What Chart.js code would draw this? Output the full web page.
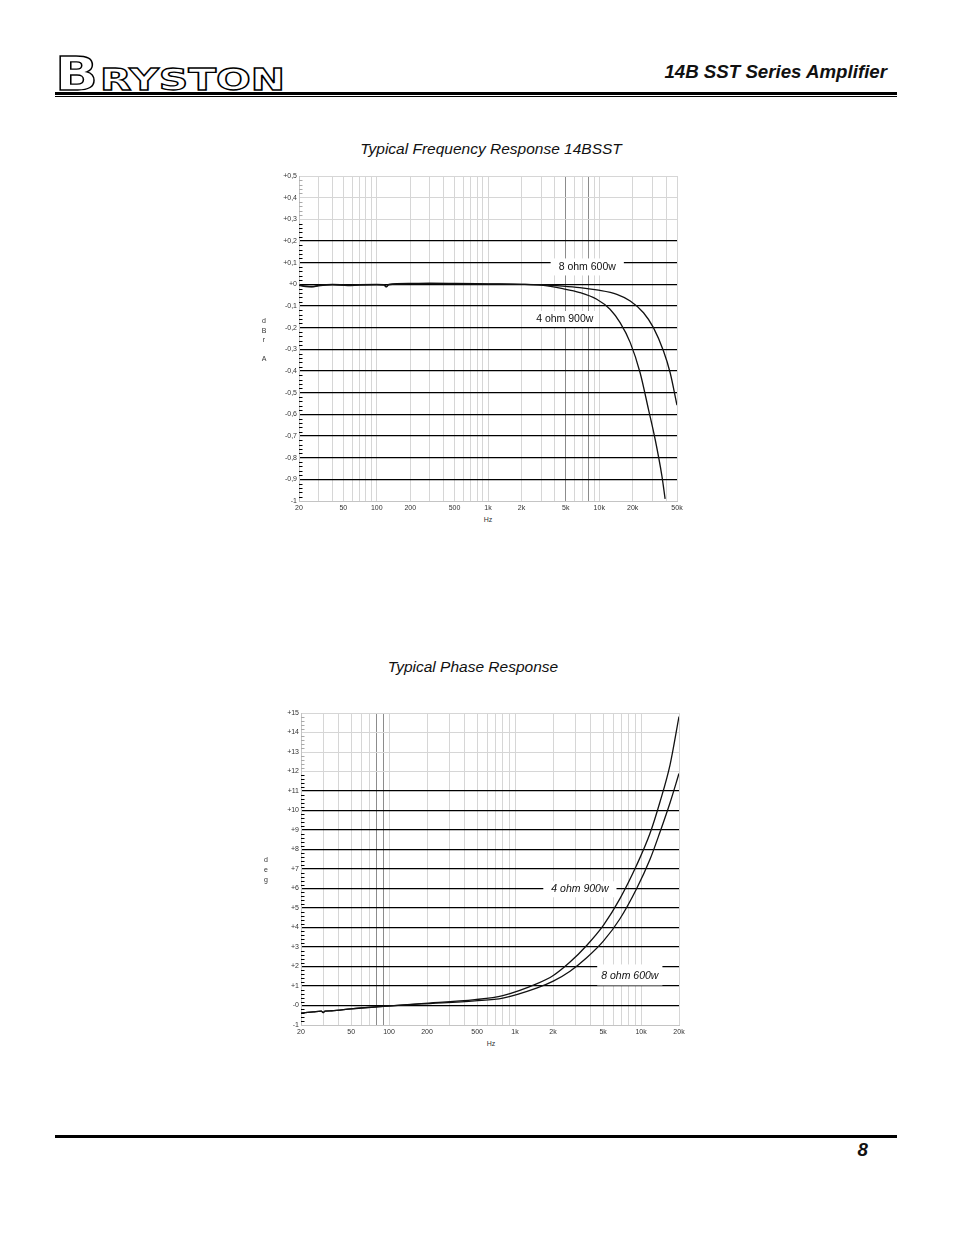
<!DOCTYPE html>
<html>
<head>
<meta charset="utf-8">
<script src="https://cdn.jsdelivr.net/npm/chart.js@4.4.1/dist/chart.umd.min.js"></script>
<style>
  body { margin: 0; background: #fff; width: 954px; height: 1235px; position: relative;
         font-family: "Liberation Sans", Arial, sans-serif; color: #111; }
  .abs { position: absolute; }
  .rule { position: absolute; left: 55px; width: 842px; background: #000; }
  .ctitle { position: absolute; width: 400px; text-align: center; font-style: italic;
            font-size: 15.5px; line-height: 18px; }
  .axlbl { position: absolute; font-size: 7px; color: #333; text-align: center; }
</style>
</head>
<body>

<svg class="abs" style="left:50px;top:50px" width="245" height="45">
  <text x="5" y="40" font-family="DejaVu Sans" font-weight="bold" font-size="47" textLength="43"
        lengthAdjust="spacingAndGlyphs" fill="#fff" stroke="#000" stroke-width="1.3">B</text>
  <text x="50" y="40" font-family="DejaVu Sans" font-weight="bold" font-size="31" textLength="185"
        lengthAdjust="spacingAndGlyphs" fill="#fff" stroke="#000" stroke-width="1.3">RYSTON</text>
</svg>
<div class="abs" style="right:67px;top:62px;font-size:18.7px;line-height:20px;font-weight:bold;font-style:italic">14B SST Series Amplifier</div>
<div class="rule" style="top:92px;height:3px"></div>
<div class="rule" style="top:96px;height:1px"></div>

<div class="ctitle" style="left:291px;top:140px">Typical Frequency Response 14BSST</div>
<div class="abs" style="left:250px;top:165px"><canvas id="freqChart" width="440" height="350"></canvas></div>
<div class="axlbl" style="left:259px;top:316px;width:10px;line-height:9.5px">d<br>B<br>r<br><br>A</div>
<div class="axlbl" style="left:473px;top:515px;width:30px;line-height:9px">Hz</div>

<div class="ctitle" style="left:273px;top:658px">Typical Phase Response</div>
<div class="abs" style="left:250px;top:700px"><canvas id="phaseChart" width="440" height="339"></canvas></div>
<div class="axlbl" style="left:261px;top:855px;width:10px;line-height:10px">d<br>e<br>g</div>
<div class="axlbl" style="left:476px;top:1039px;width:30px;line-height:9px">Hz</div>

<div class="rule" style="top:1135px;height:3px"></div>
<div class="abs" style="right:86px;top:1140px;font-size:18.7px;line-height:20px;font-weight:bold;font-style:italic">8</div>

<script>
// ---- frequency response (dBr A) ----
const freq8 = [20, 23, 26, 30, 40, 55, 70, 100, 116, 122, 128, 200, 300, 500, 1000, 2000, 3000,
               4700, 6700, 9500, 14400, 19000, 25000, 30700, 37800, 43400, 50000];
const dbr8 = [-0.005, -0.01, -0.012, -0.007, -0.002, -0.006, -0.003, -0.002, -0.003, -0.012, -0.002,
              0.002, 0.003, 0.002, 0.001, 0, -0.002, -0.008, -0.015, -0.026, -0.046, -0.077,
              -0.131, -0.2, -0.308, -0.408, -0.558];
const freq4 = [20, 23, 26, 30, 40, 55, 70, 100, 116, 122, 128, 200, 300, 500, 1000, 2000, 3000,
               4700, 6700, 9500, 12500, 15400, 19000, 23300, 27700, 31800, 36600, 39100];
const dbr4 = [-0.003, -0.008, -0.01, -0.005, 0, -0.004, -0.001, 0, -0.001, -0.01, 0, 0.004, 0.005,
              0.004, 0.002, 0, -0.004, -0.02, -0.038, -0.069, -0.115, -0.177, -0.269, -0.408,
              -0.577, -0.715, -0.885, -0.99];

// ---- phase response (deg) ----
const phaseHz = [20, 25, 29, 30, 31, 35, 50, 90, 180, 480, 800, 1480, 2010, 2730, 3700, 5020,
                 6800, 9230, 11780, 14140, 16980, 20000];
const phase4 = [-0.39, -0.33, -0.29, -0.36, -0.29, -0.27, -0.17, -0.04, 0.1, 0.3, 0.51, 1.11, 1.54,
                2.23, 3.08, 4.11, 5.48, 7.2, 8.83, 10.45, 12.34, 14.82];
const phase8 = [-0.39, -0.33, -0.29, -0.36, -0.29, -0.27, -0.17, -0.05, 0.08, 0.24, 0.38, 0.89, 1.25,
                1.76, 2.45, 3.3, 4.45, 6.0, 7.5, 8.9, 10.4, 11.9];

// ---- axes ----
const gridHz = [20, 30, 40, 50, 60, 70, 80, 90, 100, 200, 300, 400, 500, 600, 700, 800, 900,
                1000, 2000, 3000, 4000, 5000, 6000, 7000, 8000, 9000, 10000, 20000, 30000, 40000, 50000];
const labelHz = [20, 50, 100, 200, 500, 1000, 2000, 5000, 10000, 20000, 50000];
const labelHzText = ['20', '50', '100', '200', '500', '1k', '2k', '5k', '10k', '20k', '50k'];

const dbrTicks = [-1, -0.9, -0.8, -0.7, -0.6, -0.5, -0.4, -0.3, -0.2, -0.1, 0, 0.1, 0.2, 0.3, 0.4, 0.5];
const dbrTickText = ['-1', '-0,9', '-0,8', '-0,7', '-0,6', '-0,5', '-0,4', '-0,3', '-0,2', '-0,1',
                     '+0', '+0,1', '+0,2', '+0,3', '+0,4', '+0,5'];
const degTicks = [-1, 0, 1, 2, 3, 4, 5, 6, 7, 8, 9, 10, 11, 12, 13, 14, 15];
const degTickText = ['-1', '-0', '+1', '+2', '+3', '+4', '+5', '+6', '+7', '+8', '+9', '+10',
                     '+11', '+12', '+13', '+14', '+15'];

// ---- in-plot labels ----
const freqLabelText = ['8 ohm 600w', '4 ohm 900w'];
const freqLabelHz = [7800, 4900];
const freqLabelVal = [0.078, -0.16];
const phaseLabelText = ['4 ohm 900w', '8 ohm 600w'];
const phaseLabelHz = [3270, 8140];
const phaseLabelVal = [5.96, 1.49];

Chart.defaults.font.family = '"Liberation Sans", Arial, sans-serif';

// short dashes on the inside of the left axis
const minorTicks = {
  id: 'minorTicks',
  afterDraw(chart, args, opts) {
    const y = chart.scales.y, ctx = chart.ctx, left = chart.chartArea.left;
    ctx.save();
    ctx.lineWidth = 1;
    const n = Math.round((y.max - y.min) / opts.step);
    for (let i = 1; i < n; i++) {
      const v = y.min + i * opts.step;
      if (i % 5 === 0) continue;
      const py = Math.round(y.getPixelForValue(v)) + 0.5;
      ctx.strokeStyle = v < opts.blackBelow ? '#000' : '#aaa';
      ctx.beginPath();
      ctx.moveTo(left, py);
      ctx.lineTo(left + 3.5, py);
      ctx.stroke();
    }
    ctx.restore();
  }
};

const curveLabels = {
  id: 'curveLabels',
  beforeDatasetsDraw(chart, args, opts) {
    const { ctx, scales: { x, y } } = chart;
    ctx.save();
    ctx.font = opts.font;
    ctx.textAlign = 'center';
    ctx.textBaseline = 'middle';
    opts.text.forEach((t, i) => {
      const px = x.getPixelForValue(opts.hz[i]);
      const py = y.getPixelForValue(opts.val[i]);
      const w = ctx.measureText(t).width + 2 * opts.padX[i];
      ctx.fillStyle = '#fff';
      ctx.fillRect(px - w / 2, py - opts.up[i], w, opts.up[i] + opts.down[i]);
      ctx.fillStyle = '#111';
      ctx.fillText(t, px, py);
    });
    ctx.restore();
  }
};

function buildChart(id, cfg) {
  return new Chart(document.getElementById(id), {
    type: 'line',
    data: {
      datasets: cfg.series.map(s => ({
        label: s.name,
        data: s.hz.map((f, i) => ({ x: f, y: s.val[i] })),
        borderColor: '#111',
        borderWidth: 1.3,
        pointRadius: 0,
        fill: false,
        cubicInterpolationMode: 'monotone'
      }))
    },
    options: {
      responsive: false,
      animation: false,
      layout: { padding: { top: cfg.padTop, right: cfg.padRight, left: 0, bottom: 0 } },
      plugins: {
        legend: { display: false },
        tooltip: { enabled: false },
        minorTicks: { step: cfg.minorStep, blackBelow: cfg.minorBlackBelow },
        curveLabels: cfg.labels
      },
      scales: {
        x: {
          type: 'logarithmic',
          min: 20,
          max: cfg.xMax,
          afterBuildTicks: s => { s.ticks = cfg.gridHz.map(v => ({ value: v })); },
          afterFit: s => { s.height = 14; },
          ticks: {
            autoSkip: false, maxRotation: 0, padding: 3, color: '#333', font: { size: 7 },
            callback: v => { const i = labelHz.indexOf(v); return i < 0 ? '' : labelHzText[i]; }
          },
          grid: {
            drawTicks: false, lineWidth: 1,
            color: c => cfg.darkHz.includes(c.tick.value) ? '#8c8c8c' : '#d6d6d6'
          },
          border: { color: '#c4c4c4' }
        },
        y: {
          min: cfg.yTicks[0],
          max: cfg.yTicks[cfg.yTicks.length - 1],
          afterBuildTicks: s => { s.ticks = cfg.yTicks.map(v => ({ value: v })); },
          afterFit: s => { s.width = cfg.yWidth; },
          ticks: {
            padding: 2, color: '#333', font: { size: 7 },
            callback: v => cfg.yText[cfg.yTicks.indexOf(v)]
          },
          grid: {
            drawTicks: false,
            color: c => (c.tick.value <= cfg.blackTop && c.tick.value > cfg.yTicks[0]) ? '#000' : '#d6d6d6',
            lineWidth: c => (c.tick.value <= cfg.blackTop && c.tick.value > cfg.yTicks[0]) ? 1.3 : 1
          },
          border: { color: '#c4c4c4' }
        }
      }
    },
    plugins: [minorTicks, curveLabels]
  });
}

buildChart('freqChart', {
  series: [{ name: '8 ohm 600w', hz: freq8, val: dbr8 }, { name: '4 ohm 900w', hz: freq4, val: dbr4 }],
  xMax: 50000, gridHz: gridHz, darkHz: [5000, 8000],
  yTicks: dbrTicks, yText: dbrTickText, blackTop: 0.2,
  minorStep: 0.02, minorBlackBelow: 0.3,
  padTop: 11, padRight: 13, yWidth: 49,
  labels: { text: freqLabelText, hz: freqLabelHz, val: freqLabelVal,
            font: '10.5px "Liberation Sans", Arial, sans-serif',
            padX: [8, 4], up: [9, 8], down: [8, 8] }
});

buildChart('phaseChart', {
  series: [{ name: '4 ohm 900w', hz: phaseHz, val: phase4 }, { name: '8 ohm 600w', hz: phaseHz, val: phase8 }],
  xMax: 20000, gridHz: gridHz.filter(v => v <= 20000), darkHz: [80, 90],
  yTicks: degTicks, yText: degTickText, blackTop: 11,
  minorStep: 0.2, minorBlackBelow: 12,
  padTop: 13, padRight: 11, yWidth: 51,
  labels: { text: phaseLabelText, hz: phaseLabelHz, val: phaseLabelVal,
            font: 'italic 10.5px "Liberation Sans", Arial, sans-serif',
            padX: [8, 4], up: [8, 12], down: [8, 9] }
});
</script>
</body>
</html>
